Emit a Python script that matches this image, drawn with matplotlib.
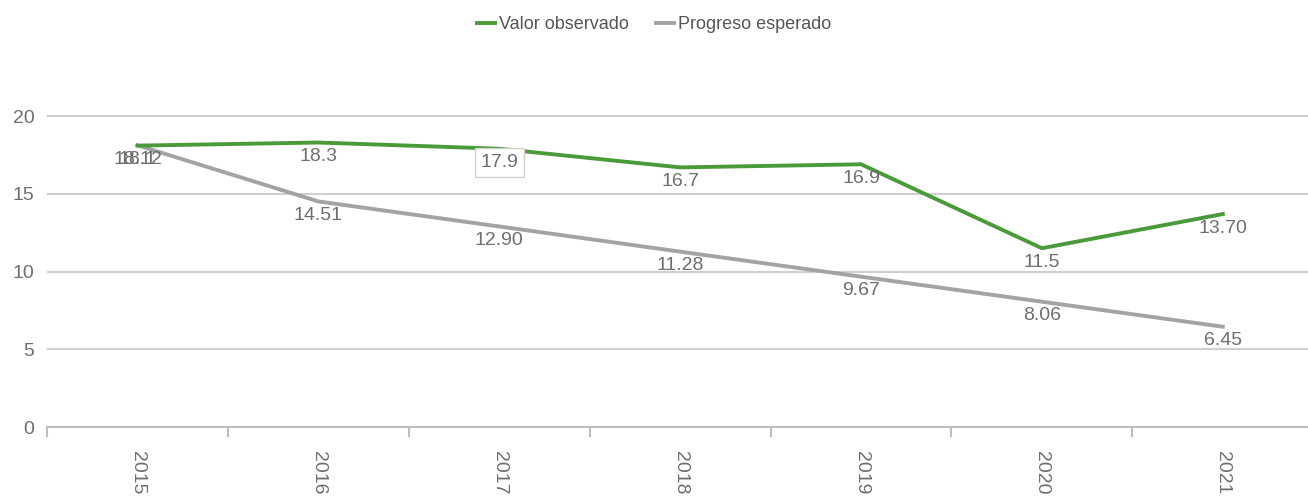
import matplotlib.pyplot as plt
from matplotlib.ticker import FixedLocator

plt.rcParams['font.family'] = ['Liberation Sans', 'DejaVu Sans']

years = ['2015', '2016', '2017', '2018', '2019', '2020', '2021']
observado = [18.1, 18.3, 17.9, 16.7, 16.9, 11.5, 13.70]
esperado = [18.12, 14.51, 12.90, 11.28, 9.67, 8.06, 6.45]
obs_labels = ['18.1', '18.3', '17.9', '16.7', '16.9', '11.5', '13.70']
esp_labels = ['18.12', '14.51', '12.90', '11.28', '9.67', '8.06', '6.45']

green = '#4a9a3a'
grey = '#a3a3a3'
text_col = '#6e6e6e'

fig = plt.figure(figsize=(13.08, 5), dpi=100)
ax = fig.add_axes([0.036, 0.146, 0.968, 0.684])

x = list(range(len(years)))
ax.plot(x, esperado, color=grey, lw=2.8, label='Progreso esperado', zorder=3)
ax.plot(x, observado, color=green, lw=2.8, label='Valor observado', zorder=4)

# data labels sit just under each point
for i, (v, t) in enumerate(zip(esperado, esp_labels)):
    ax.annotate(t, (i, v), xytext=(0, -4), textcoords='offset points',
                ha='center', va='top', fontsize=14, color=text_col, zorder=5)
for i, (v, t) in enumerate(zip(observado, obs_labels)):
    box = None
    if t == '17.9':
        box = dict(boxstyle='square,pad=0.3', fc='white', ec='#d0d0d0', lw=1)
    ax.annotate(t, (i, v), xytext=(0, -4), textcoords='offset points',
                ha='center', va='top', fontsize=14, color=text_col,
                bbox=box, zorder=6)

ax.set_xlim(-0.5, 6.5)
ax.set_ylim(0, 22)
ax.set_yticks([0, 5, 10, 15, 20])
ax.yaxis.grid(True, color='#cfcfcf', lw=1.5)
ax.set_axisbelow(True)
ax.tick_params(axis='y', length=0, labelsize=14, labelcolor=text_col, pad=9)

ax.set_xticks(x)
ax.set_xticklabels(years, rotation=270, fontsize=14, color=text_col)
ax.tick_params(axis='x', which='major', length=0, pad=17)
ax.xaxis.set_minor_locator(FixedLocator([i - 0.5 for i in range(len(years) + 1)]))
ax.tick_params(axis='x', which='minor', length=7, color='#bdbdbd', width=1.5)

for s in ['top', 'right', 'left']:
    ax.spines[s].set_visible(False)
ax.spines['bottom'].set_color('#bdbdbd')
ax.spines['bottom'].set_linewidth(1.5)

handles, labels = ax.get_legend_handles_labels()
fig.legend(handles[::-1], labels[::-1], loc='upper center', bbox_to_anchor=(0.5, 1.0),
           ncol=2, frameon=False, fontsize=13, labelcolor='#555555',
           handlelength=1.0, handletextpad=0.2, columnspacing=1.5)

fig.savefig('out.png', dpi=100)
